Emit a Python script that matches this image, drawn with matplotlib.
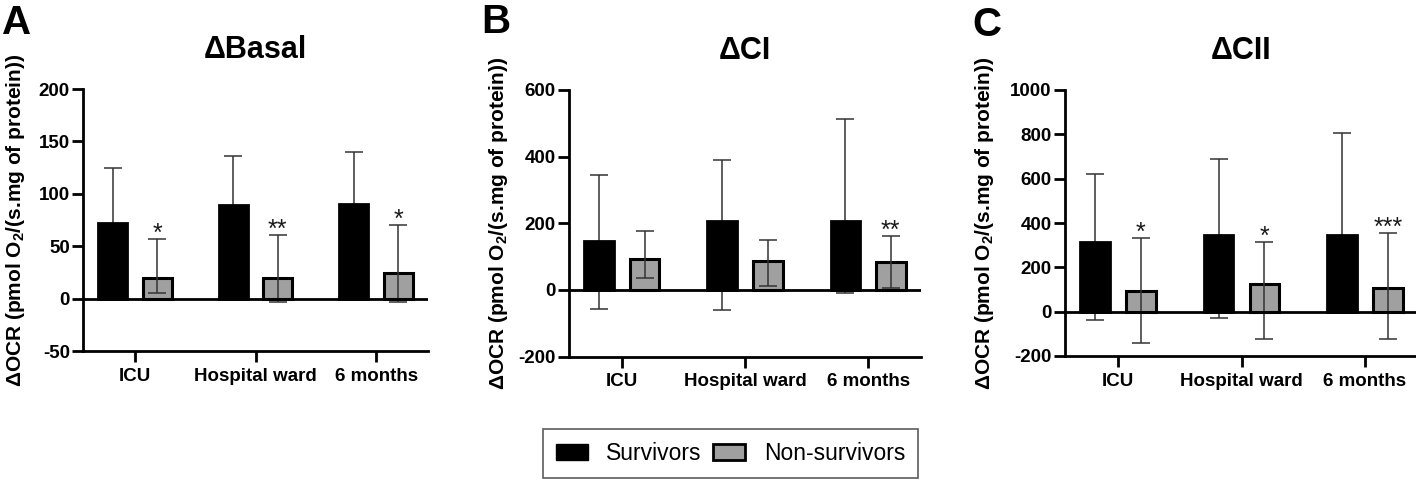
import matplotlib
matplotlib.use("Agg")
import matplotlib.pyplot as plt
from matplotlib.patches import Patch
import numpy as np

plt.rcParams['font.family'] = ['Liberation Sans', 'DejaVu Sans']
plt.rcParams['mathtext.default'] = 'regular'

categories = ["ICU", "Hospital ward", "6 months"]
titles = ["\u0394Basal", "\u0394CI", "\u0394CII"]
letters = ["A", "B", "C"]

# Panel A (ΔBasal)
basal_surv = [72, 89, 90]
basal_surv_hi = [125, 136, 140]
basal_surv_lo = [20, 30, 30]
basal_non = [20, 20, 24.5]
basal_non_hi = [57, 61, 70]
basal_non_lo = [5.7, -3.5, -3.5]
basal_stars = ["*", "**", "*"]

# Panel B (ΔCI)
ci_surv = [148, 207, 207]
ci_surv_hi = [344, 391, 512]
ci_surv_lo = [-56, -60, -10]
ci_non = [94, 88, 85]
ci_non_hi = [178, 150, 163]
ci_non_lo = [37, 12, 5]
ci_stars = ["", "", "**"]

# Panel C (ΔCII)
cii_surv = [316, 347, 347]
cii_surv_hi = [620, 687, 805]
cii_surv_lo = [-38, -30, 20]
cii_non = [93, 123, 107]
cii_non_hi = [332, 314, 355]
cii_non_lo = [-140, -123, -123]
cii_stars = ["*", "*", "***"]

yticks_list = [[-50, 0, 50, 100, 150, 200],
               [-200, 0, 200, 400, 600],
               [-200, 0, 200, 400, 600, 800, 1000]]

panels = [
    (basal_surv, basal_surv_hi, basal_surv_lo, basal_non, basal_non_hi, basal_non_lo, basal_stars),
    (ci_surv, ci_surv_hi, ci_surv_lo, ci_non, ci_non_hi, ci_non_lo, ci_stars),
    (cii_surv, cii_surv_hi, cii_surv_lo, cii_non, cii_non_hi, cii_non_lo, cii_stars),
]

W, H = 1416, 482
fig = plt.figure(figsize=(W / 100, H / 100), dpi=100)

# axes boxes in pixels: left, right, top, bottom
boxes = [(83, 428, 89, 351), (569, 921, 90, 356.5), (1065, 1418, 90, 356)]
ylabel_x = [16, 498, 984]
letter_pos = [(2, 34), (481, 33), (972, 36)]

gray = "#a0a0a0"
bw = 0.24
off = 0.185
lw_axis = 2.0

for i, (box, data) in enumerate(zip(boxes, panels)):
    l, r, t, b = box
    ax = fig.add_axes([l / W, (H - b) / H, (r - l) / W, (b - t) / H])
    s, s_hi, s_lo, n, n_hi, n_lo, stars = data
    x = np.arange(len(categories))
    s = np.array(s); n = np.array(n)
    s_err = [s - np.array(s_lo), np.array(s_hi) - s]
    n_err = [n - np.array(n_lo), np.array(n_hi) - n]
    ax.errorbar(x - off, s, yerr=s_err, fmt="none", ecolor="#333333",
                elinewidth=1.1, capsize=6.5, capthick=1.1, zorder=1)
    ax.bar(x - off, s, bw, color="black", edgecolor="black", linewidth=2, zorder=2)
    ax.bar(x + off, n, bw, color=gray, edgecolor="black", linewidth=2.2, zorder=2)
    ax.errorbar(x + off, n, yerr=n_err, fmt="none", ecolor="#333333",
                elinewidth=1.1, capsize=6.5, capthick=1.1, zorder=3)
    yt = yticks_list[i]
    ymin, ymax = yt[0], yt[-1]
    ax.set_ylim(ymin, ymax)
    ax.set_xlim(-0.43, 2.43)
    ax.axhline(0, color="black", lw=lw_axis, zorder=4)
    for xi, st, hi in zip(x, stars, n_hi):
        if st:
            ax.annotate(st, xy=(xi + off, hi), xytext=(0, -1.5),
                        textcoords="offset points", ha="center", va="baseline",
                        fontsize=18, color="#1a1a1a")
    ax.set_yticks(yt)
    ax.set_yticklabels([str(v) for v in yt], fontsize=13.5, fontweight="bold")
    ax.set_xticks(x)
    ax.set_xticklabels(categories, fontsize=13.5, fontweight="bold")
    ax.tick_params(axis="both", width=lw_axis, length=8, color="black", pad=1.5)
    ax.tick_params(axis="x", length=8, pad=4)
    for sp in ["top", "right"]:
        ax.spines[sp].set_visible(False)
    for sp in ["left", "bottom"]:
        ax.spines[sp].set_linewidth(lw_axis)
    ax.set_title(titles[i], fontsize=22, fontweight="bold", pad=22)
    fig.text(ylabel_x[i] / W, (H - (b + t) / 2) / H,
             "\u0394OCR (pmol O$_2$/(s.mg of protein))", rotation=90,
             ha="center", va="center", fontsize=15, fontweight="bold")
    lx, ly = letter_pos[i]
    fig.text(lx / W, (H - ly) / H, letters[i], fontsize=29, fontweight="bold",
             ha="left", va="baseline")

handles = [Patch(facecolor="black", edgecolor="black", label="Survivors"),
           Patch(facecolor=gray, edgecolor="black", linewidth=2, label="Non-survivors")]
leg = fig.legend(handles=handles, loc="center", ncol=2,
                 bbox_to_anchor=((537 + 924) / 2 / W, 1 - (428 + 479) / 2 / H),
                 fontsize=16.5, frameon=True, fancybox=False, edgecolor="#333333",
                 handlelength=1.4, handleheight=0.65, columnspacing=0.5,
                 borderpad=0.55, handletextpad=0.8, borderaxespad=0)
leg.get_frame().set_linewidth(1.2)

fig.savefig("out.png", dpi=100)
